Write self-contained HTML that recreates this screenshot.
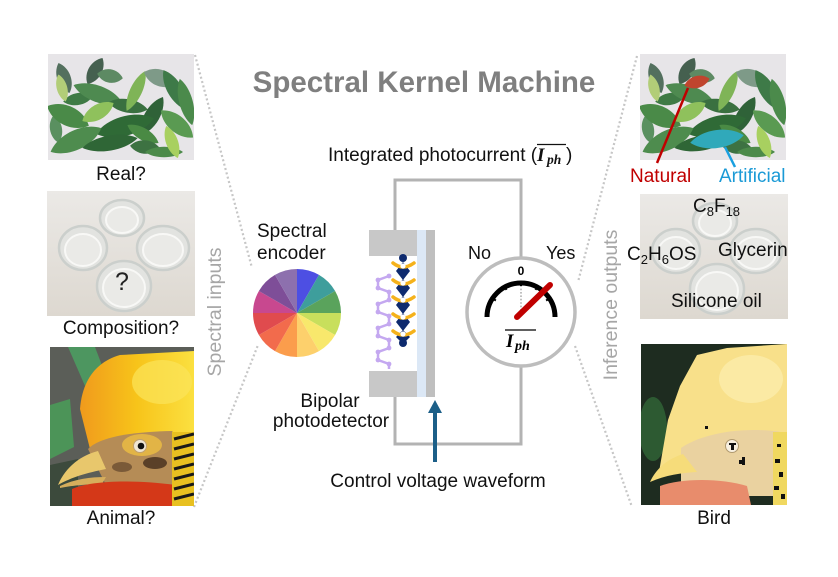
<!DOCTYPE html>
<html><head><meta charset="utf-8"><style>
html,body{margin:0;padding:0;background:#fff;}
svg{display:block;font-family:"Liberation Sans",Arial,sans-serif;}
</style></head><body>
<svg width="838" height="577" viewBox="0 0 838 577" xmlns="http://www.w3.org/2000/svg">
<defs>
<path id="lf" d="M-1,0 C-0.5,-1 0.5,-1 1,0 C0.5,1 -0.5,1 -1,0Z"/>
<clipPath id="cL"><rect x="0" y="0" width="146" height="106"/></clipPath>
<clipPath id="cG"><rect x="0" y="0" width="148" height="125"/></clipPath>
<clipPath id="cB1"><rect x="0" y="0" width="144" height="159"/></clipPath>
<clipPath id="cB2"><rect x="0" y="0" width="146" height="161"/></clipPath>
<linearGradient id="gG" x1="0" y1="0" x2="0" y2="1"><stop offset="0" stop-color="#ebe9e6"/><stop offset="1" stop-color="#ddd8d0"/></linearGradient>
<linearGradient id="crest" x1="0" y1="0" x2="1" y2="0"><stop offset="0" stop-color="#f09a1c"/><stop offset="0.5" stop-color="#f7c41a"/><stop offset="1" stop-color="#fbe040"/></linearGradient>
<g id="leaves">
<rect x="0" y="0" width="146" height="106" fill="#e7e5e8"/>
<g clip-path="url(#cL)">
<use href="#lf" transform="translate(16,24) rotate(70) scale(16,9)" fill="#53705e"/>
<use href="#lf" transform="translate(8,75) rotate(80) scale(14,8)" fill="#5a9060"/>
<use href="#lf" transform="translate(30,45) rotate(-10) scale(15,8)" fill="#3f7a45"/>
<use href="#lf" transform="translate(14,34) rotate(75) scale(14,7)" fill="#b2cd78"/>
<use href="#lf" transform="translate(47,17) rotate(-60) scale(15,9)" fill="#45604f"/>
<use href="#lf" transform="translate(62,22) rotate(10) scale(13,9)" fill="#5d8a63"/>
<use href="#lf" transform="translate(50,40) rotate(20) scale(26,11)" fill="#4e8a50"/>
<use href="#lf" transform="translate(80,52) rotate(10) scale(20,9)" fill="#3a7040"/>
<use href="#lf" transform="translate(88,37) rotate(-65) scale(22,8)" fill="#7fb457"/>
<use href="#lf" transform="translate(112,24) rotate(20) scale(17,11)" fill="#7e9a88"/>
<use href="#lf" transform="translate(127,36) rotate(60) scale(23,10)" fill="#3e7a48"/>
<use href="#lf" transform="translate(138,48) rotate(75) scale(24,9)" fill="#4b8a4b"/>
<use href="#lf" transform="translate(20,62) rotate(25) scale(23,13)" fill="#4a8a48"/>
<use href="#lf" transform="translate(50,58) rotate(-30) scale(18,10)" fill="#8fc15c"/>
<use href="#lf" transform="translate(104,62) rotate(-60) scale(22,10)" fill="#2f6238"/>
<use href="#lf" transform="translate(129,70) rotate(40) scale(21,11)" fill="#5a9a52"/>
<use href="#lf" transform="translate(77,72) rotate(-15) scale(30,13)" fill="#2f6a36"/>
<use href="#lf" transform="translate(95,80) rotate(30) scale(18,8)" fill="#4a8a44"/>
<use href="#lf" transform="translate(28,86) rotate(-25) scale(28,13)" fill="#4e8c4e"/>
<use href="#lf" transform="translate(62,89) rotate(-10) scale(28,10)" fill="#2f6636"/>
<use href="#lf" transform="translate(97,93) rotate(5) scale(15,9)" fill="#3d7242"/>
<use href="#lf" transform="translate(116,98) rotate(0) scale(19,7)" fill="#4c8a4a"/>
<use href="#lf" transform="translate(124,88) rotate(70) scale(17,8)" fill="#a8d060"/>
</g>
</g>
<g id="glass">
<rect x="0" y="0" width="148" height="125" fill="url(#gG)"/>
<g clip-path="url(#cG)">
<g fill="#e2e3e0" stroke="#cbcfcc" stroke-width="2.5">
<ellipse cx="75" cy="27" rx="22" ry="18"/>
<ellipse cx="36" cy="57" rx="24" ry="22"/>
<ellipse cx="116" cy="57" rx="26" ry="22"/>
<ellipse cx="77" cy="95" rx="27" ry="25"/>
</g>
<g fill="#eaeae7" stroke="#f8f8f6" stroke-width="2">
<ellipse cx="75" cy="29" rx="16" ry="13"/>
<ellipse cx="36" cy="59" rx="18" ry="16"/>
<ellipse cx="116" cy="59" rx="20" ry="16"/>
<ellipse cx="77" cy="97" rx="21" ry="19"/>
</g>
</g>
</g>
</defs>

<!-- Title -->
<text x="424" y="92" text-anchor="middle" font-size="29.5" font-weight="bold" fill="#7f7f7f">Spectral Kernel Machine</text>

<!-- dotted connectors -->
<g stroke="#c6c6c6" stroke-width="2.2" stroke-dasharray="2 2.5" fill="none">
<line x1="195" y1="55" x2="252" y2="268"/>
<line x1="194" y1="507" x2="258" y2="345"/>
<line x1="637" y1="56" x2="578" y2="282"/>
<line x1="575" y1="346" x2="632" y2="507"/>
</g>

<!-- Left images -->
<use href="#leaves" transform="translate(48,54)"/>
<text x="121" y="180" text-anchor="middle" font-size="19" fill="#111">Real?</text>
<use href="#glass" transform="translate(47,191)"/>
<text x="122" y="290" text-anchor="middle" font-size="25" fill="#222">?</text>
<text x="121" y="334" text-anchor="middle" font-size="19" fill="#111">Composition?</text>

<g transform="translate(50,347)">
<g clip-path="url(#cB1)">
<rect x="0" y="0" width="144" height="159" fill="#5b5e58"/>
<path d="M18,0 L45,0 L62,45 L42,55 Z" fill="#4d9660"/>
<path d="M0,58 L20,52 L24,100 L0,112 Z" fill="#4c9458"/>
<path d="M0,118 L28,112 L28,159 L0,159Z" fill="#3c4a3c"/>
<path d="M30,62 C32,35 45,15 70,8 L144,4 L144,98 L40,102 Z" fill="url(#crest)"/>
<ellipse cx="112" cy="35" rx="30" ry="22" fill="#fbe45a" opacity="0.7"/>
<path d="M38,102 C50,90 80,85 122,84 L136,100 L130,142 L60,146 Z" fill="#b58c56"/>
<ellipse cx="92" cy="98" rx="20" ry="11" fill="#e2b446"/>
<ellipse cx="105" cy="116" rx="12" ry="6" fill="#5a4028"/>
<ellipse cx="72" cy="120" rx="10" ry="5" fill="#7a5a38"/>
<circle cx="90" cy="99" r="6.5" fill="#efe6d4" stroke="#c0a070" stroke-width="1"/>
<circle cx="91" cy="99" r="3.3" fill="#111"/>
<path d="M48,104 C32,108 16,119 8,138 C22,130 36,126 56,122 Z" fill="#e8c76c"/>
<path d="M10,139 C25,132 40,130 56,130 L52,137 C36,137 20,139 10,141Z" fill="#d6ae5c"/>
<path d="M22,142 C40,134 80,132 125,138 L127,159 L22,159Z" fill="#d43818"/>
<rect x="122" y="85" width="22" height="74" fill="#e8c020"/>
<g stroke="#1a1a1a" stroke-width="3">
<line x1="124" y1="92" x2="144" y2="87"/><line x1="124" y1="102" x2="144" y2="97"/>
<line x1="124" y1="112" x2="144" y2="107"/><line x1="124" y1="122" x2="144" y2="117"/>
<line x1="124" y1="132" x2="144" y2="127"/><line x1="124" y1="142" x2="144" y2="137"/>
<line x1="124" y1="152" x2="144" y2="147"/>
</g>
</g>
</g>
<text x="121" y="524" text-anchor="middle" font-size="19" fill="#111">Animal?</text>

<text transform="translate(221,312) rotate(-90)" text-anchor="middle" font-size="19.5" fill="#a6a6a6">Spectral inputs</text>

<!-- Spectral encoder -->
<text x="257" y="237" font-size="19" fill="#111">Spectral</text>
<text x="257" y="259" font-size="19" fill="#111">encoder</text>
<g>
<path d="M297,313 L297,269 A44,44 0 0 1 319,274.9 Z" fill="#4d4fe3"/>
<path d="M297,313 L319,274.9 A44,44 0 0 1 335.1,291 Z" fill="#3e9e9c"/>
<path d="M297,313 L335.1,291 A44,44 0 0 1 341,313 Z" fill="#5aa35c"/>
<path d="M297,313 L341,313 A44,44 0 0 1 335.1,335 Z" fill="#c8df5c"/>
<path d="M297,313 L335.1,335 A44,44 0 0 1 319,351.1 Z" fill="#f8e86c"/>
<path d="M297,313 L319,351.1 A44,44 0 0 1 297,357 Z" fill="#fdd06c"/>
<path d="M297,313 L297,357 A44,44 0 0 1 275,351.1 Z" fill="#fb9d4c"/>
<path d="M297,313 L275,351.1 A44,44 0 0 1 258.9,335 Z" fill="#f26b4c"/>
<path d="M297,313 L258.9,335 A44,44 0 0 1 253,313 Z" fill="#e04b4e"/>
<path d="M297,313 L253,313 A44,44 0 0 1 258.9,291 Z" fill="#c8488f"/>
<path d="M297,313 L258.9,291 A44,44 0 0 1 275,274.9 Z" fill="#7e4e98"/>
<path d="M297,313 L275,274.9 A44,44 0 0 1 297,269 Z" fill="#8d70ae"/>
</g>

<!-- circuit wires -->
<g stroke="#b3b3b3" stroke-width="3" fill="none">
<polyline points="395,230 395,180 521,180 521,258"/>
<polyline points="395,397 395,444 521,444 521,366"/>
</g>

<!-- device -->
<rect x="369" y="230" width="48" height="26" fill="#c8c8c8"/>
<rect x="369" y="371" width="48" height="26" fill="#c8c8c8"/>
<rect x="417" y="230" width="9" height="167" fill="#dce8f6"/>
<rect x="426" y="230" width="9" height="167" fill="#bfbfbf"/>

<!-- lavender chain -->
<polyline points="389,276 378,280 378,288 389,292 389,300 378,304 378,312 389,316 389,324 378,328 378,336 389,340 389,348 378,352 378,360 389,364 389,369" fill="none" stroke="#c4a8f0" stroke-width="2.5"/>
<g fill="#c4a8f0">
<circle cx="389" cy="276" r="2.4"/><circle cx="378" cy="280" r="2.4"/><circle cx="378" cy="288" r="2.4"/><circle cx="389" cy="292" r="2.4"/>
<circle cx="389" cy="300" r="2.4"/><circle cx="378" cy="304" r="2.4"/><circle cx="378" cy="312" r="2.4"/><circle cx="389" cy="316" r="2.4"/>
<circle cx="389" cy="324" r="2.4"/><circle cx="378" cy="328" r="2.4"/><circle cx="378" cy="336" r="2.4"/><circle cx="389" cy="340" r="2.4"/>
<circle cx="389" cy="348" r="2.4"/><circle cx="378" cy="352" r="2.4"/><circle cx="378" cy="360" r="2.4"/><circle cx="389" cy="364" r="2.4"/>
</g>

<!-- navy / orange chain -->
<g fill="#0e2a6e">
<circle cx="403" cy="258" r="4"/>
<polygon points="403,262 410,271 403,280 396,271"/>
<polygon points="403,279 410,288 403,297 396,288"/>
<polygon points="403,296 410,305 403,314 396,305"/>
<polygon points="403,313 410,322 403,331 396,322"/>
<polygon points="403,330 410,337 403,344 396,337"/>
<circle cx="403" cy="343" r="4"/>
</g>
<g fill="none" stroke="#f5b21b" stroke-width="3.5" stroke-linecap="round">
<path d="M393,263 Q403,271 414,263"/>
<path d="M393,280 Q403,288 414,280"/>
<path d="M393,297 Q403,305 414,297"/>
<path d="M393,314 Q403,322 414,314"/>
<path d="M393,331 Q403,339 414,331"/>
</g>
<g fill="#ffffff">
<circle cx="403" cy="266" r="2.6"/><circle cx="403" cy="283" r="2.6"/><circle cx="403" cy="300" r="2.6"/><circle cx="403" cy="317" r="2.6"/><circle cx="403" cy="334" r="2.6"/>
</g>

<text x="330" y="407" text-anchor="middle" font-size="19" fill="#111">Bipolar</text>
<text x="331" y="427" text-anchor="middle" font-size="19" fill="#111">photodetector</text>

<!-- control arrow -->
<line x1="435" y1="462" x2="435" y2="410" stroke="#1c5f88" stroke-width="4"/>
<polygon points="428,413 442,413 435,400" fill="#1c5f88"/>
<text x="438" y="487" text-anchor="middle" font-size="19" fill="#111">Control voltage waveform</text>

<!-- Integrated photocurrent -->
<text x="328" y="161" font-size="19" fill="#111">Integrated photocurrent (</text>
<text x="537" y="161" font-family="Liberation Serif, serif" font-style="italic" font-weight="bold" font-size="19" fill="#111">I</text>
<text x="547" y="164" font-family="Liberation Serif, serif" font-style="italic" font-weight="bold" font-size="13.5" fill="#111">ph</text>
<text x="566" y="161" font-size="19" fill="#111">)</text>
<line x1="537" y1="144.5" x2="566" y2="144.5" stroke="#111" stroke-width="1.2"/>

<!-- meter -->
<circle cx="521" cy="312" r="54" fill="#fff" stroke="#bdbdbd" stroke-width="3.5"/>
<line x1="521" y1="314" x2="521" y2="283" stroke="#b0b0b0" stroke-width="1.6" stroke-dasharray="1.6 1.8"/>
<path d="M487,317 A34,34 0 0 1 555,317" fill="none" stroke="#000" stroke-width="5"/>
<g stroke="#000" stroke-width="2">
<line x1="491.6" y1="298" x2="495.9" y2="300.5"/>
<line x1="504" y1="285.6" x2="506.5" y2="289.9"/>
<line x1="538" y1="285.6" x2="535.5" y2="289.9"/>
<line x1="550.4" y1="298" x2="546.1" y2="300.5"/>
<line x1="521" y1="281" x2="521" y2="286"/>
</g>
<text x="521" y="275" text-anchor="middle" font-size="12" font-weight="bold" fill="#000">0</text>
<line x1="517" y1="317" x2="550" y2="285" stroke="#c00000" stroke-width="6" stroke-linecap="round"/>
<line x1="505" y1="330" x2="536" y2="330" stroke="#000" stroke-width="1.3"/>
<text x="506" y="347" font-family="Liberation Serif, serif" font-style="italic" font-weight="bold" font-size="19" fill="#000">I</text>
<text x="515" y="350" font-family="Liberation Serif, serif" font-style="italic" font-weight="bold" font-size="14" fill="#000">ph</text>
<text x="468" y="259" font-size="18" fill="#111">No</text>
<text x="546" y="259" font-size="18" fill="#111">Yes</text>

<text transform="translate(617,305) rotate(-90)" text-anchor="middle" font-size="19.5" fill="#a6a6a6">Inference outputs</text>

<!-- Right images -->
<use href="#leaves" transform="translate(640,54)"/>
<use href="#lf" transform="translate(697,82) rotate(-15) scale(13,8)" fill="#c0452e"/>
<use href="#lf" transform="translate(717,139) rotate(-8) scale(27,12)" fill="#30a9ba"/>
<line x1="688" y1="88" x2="657" y2="163" stroke="#c00000" stroke-width="2.5"/>
<line x1="725" y1="147" x2="735" y2="167" stroke="#1aa0e0" stroke-width="2.5"/>
<text x="630" y="182" font-size="19" fill="#c00000">Natural</text>
<text x="719" y="182" font-size="19" fill="#1a9ad6">Artificial</text>

<use href="#glass" transform="translate(640,194)"/>
<g font-size="19" fill="#111">
<text x="693" y="212">C<tspan font-size="13" dy="4">8</tspan><tspan dy="-4">F</tspan><tspan font-size="13" dy="4">18</tspan></text>
<text x="627" y="260">C<tspan font-size="13" dy="4">2</tspan><tspan dy="-4">H</tspan><tspan font-size="13" dy="4">6</tspan><tspan dy="-4">OS</tspan></text>
<text x="718" y="256">Glycerin</text>
<text x="671" y="307">Silicone oil</text>
</g>

<g transform="translate(641,344)">
<g clip-path="url(#cB2)">
<rect x="0" y="0" width="146" height="161" fill="#1e2c20"/>
<ellipse cx="12" cy="85" rx="14" ry="32" fill="#2d5a32"/>
<path d="M56,11 L86,4 L146,0 L146,112 L60,122 L18,128 L27,76 L39,42 Z" fill="#f8e08a"/>
<ellipse cx="110" cy="35" rx="32" ry="24" fill="#fbeaa4"/>
<path d="M40,104 C60,90 100,82 140,88 L140,152 L40,152Z" fill="#ead2a0"/>
<circle cx="91" cy="102" r="6.5" fill="#f8f0e0" stroke="#b09a70" stroke-width="1"/>
<path d="M88,99 h7 v2 h-2 v5 h-3 v-5 h-2z" fill="#111"/>
<rect x="98" y="116" width="6" height="4" fill="#111"/>
<rect x="101" y="113" width="3" height="8" fill="#111"/>
<rect x="64" y="82" width="3" height="3" fill="#111"/>
<rect x="48" y="142" width="8" height="3" fill="#111"/>
<path d="M42,110 C26,115 15,125 9,138 C25,131 40,129 56,128Z" fill="#f6dc7a"/>
<path d="M19,142 C40,134 80,134 106,142 L110,161 L19,161Z" fill="#e88c6c"/>
<rect x="132" y="88" width="14" height="73" fill="#f0d860"/>
<g fill="#111"><rect x="136" y="100" width="4" height="3"/><rect x="134" y="115" width="5" height="4"/><rect x="138" y="128" width="4" height="5"/><rect x="133" y="142" width="5" height="4"/><rect x="140" y="150" width="4" height="5"/></g>
</g>
</g>
<text x="714" y="524" text-anchor="middle" font-size="19" fill="#111">Bird</text>
</svg>
</body></html>
